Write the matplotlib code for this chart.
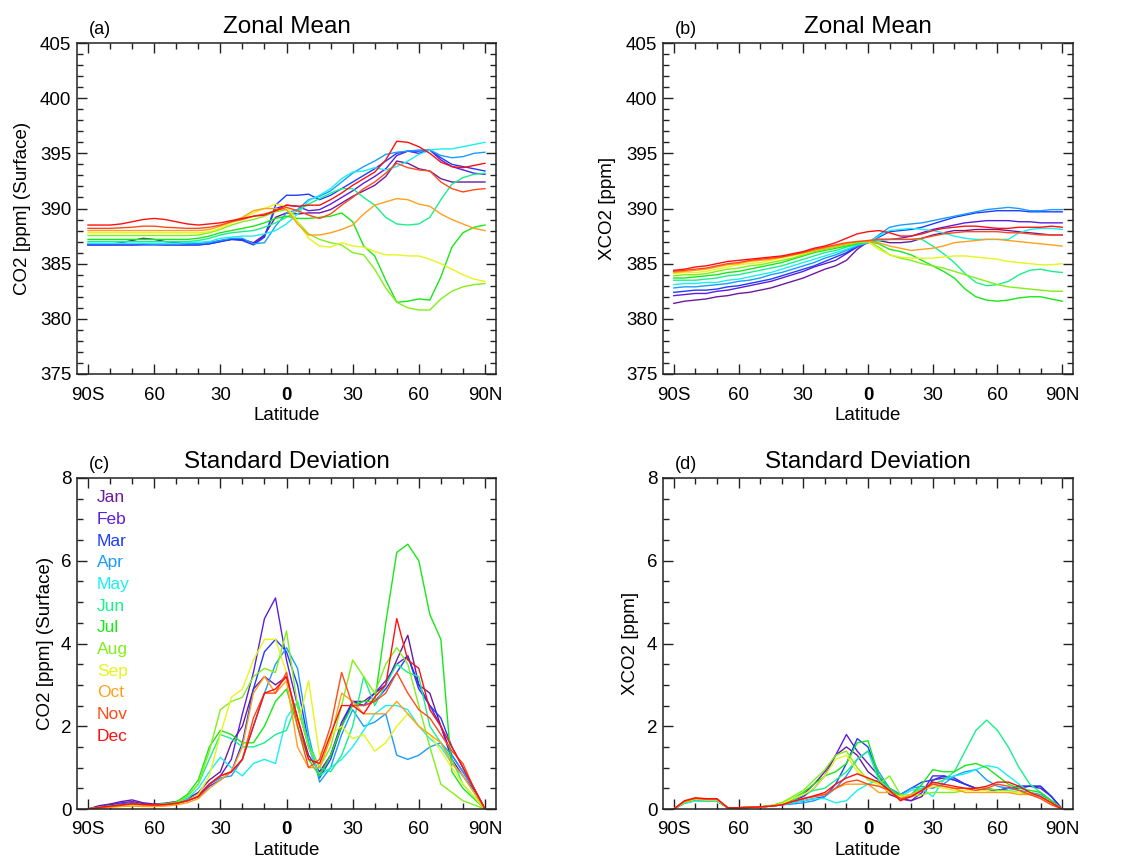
import numpy as np
import matplotlib
matplotlib.use('Agg')
import matplotlib.pyplot as plt
from matplotlib.ticker import MultipleLocator

plt.rcParams['font.family'] = ['Liberation Sans', 'DejaVu Sans']

# ---------------- data ----------------
months = ['Jan', 'Feb', 'Mar', 'Apr', 'May', 'Jun', 'Jul', 'Aug', 'Sep', 'Oct', 'Nov', 'Dec']
month_colors = ['#6c1a9c', '#5a1fe0', '#1f3cff', '#1a9cff', '#18f0f0', '#18f08c',
                '#18e818', '#80f018', '#e6f51a', '#ffa01a', '#ff4b1a', '#ff1010']
lat = np.arange(-90, 91, 5)
xtick_vals = [-90, -60, -30, 0, 30, 60, 90]
xtick_labels = ['90S', '60', '30', '0', '30', '60', '90N']

# (a) zonal mean surface CO2 [ppm]
a_jan = [386.75,386.75,386.75,386.9,387.1,387.3,387.2,387.0,386.9,386.8,386.8,386.9,387.1,
         387.2,387.2,386.9,387.6,389.2,389.6,
         389.5,389.6,389.6,389.9,390.5,391.1,391.6,392.1,392.9,394.3,394.1,393.6,393.4,392.7,392.4,392.4,392.4,392.4]
a_feb = [386.7,386.7,386.7,386.7,386.7,386.75,386.75,386.7,386.7,386.7,386.7,386.8,387.0,
         387.2,387.2,386.8,387.5,390.0,390.3,
         390.2,389.8,389.9,390.4,391.0,391.6,392.3,392.9,393.6,394.8,395.2,395.0,395.3,394.4,393.8,393.5,393.2,393.1]
a_mar = [386.7,386.7,386.7,386.7,386.7,386.7,386.7,386.7,386.7,386.7,386.7,386.8,387.0,
         387.2,387.1,386.7,387.4,390.3,391.2,
         391.2,391.3,390.8,391.2,391.8,392.4,393.0,393.6,394.3,395.0,395.2,395.2,395.3,394.6,394.0,393.8,393.6,393.4]
a_apr = [386.8,386.8,386.8,386.8,386.8,386.8,386.75,386.75,386.75,386.8,386.8,386.9,387.1,
         387.3,387.3,386.8,386.9,388.4,389.6,
         389.9,390.8,391.1,391.6,392.4,393.2,393.8,394.3,394.9,395.1,395.2,395.3,395.3,394.8,394.6,394.7,395.0,395.1]
a_may = [386.85,386.85,386.85,386.85,386.85,386.85,386.85,386.85,386.85,386.9,386.95,387.0,387.3,
         387.4,387.5,387.5,387.7,388.0,388.6,
         389.5,390.7,391.2,391.8,392.7,393.3,393.4,393.7,393.5,393.8,394.3,394.9,395.3,395.4,395.4,395.6,395.8,396.0]
a_jun = [387.0,387.0,387.0,387.0,387.0,387.0,387.0,387.0,387.0,387.0,387.1,387.3,387.6,
         387.8,387.9,388.0,388.3,388.7,389.2,
         389.8,390.4,390.9,391.4,391.8,391.8,391.0,390.3,389.2,388.6,388.5,388.6,389.2,390.8,392.2,392.8,393.1,393.2]
a_jul = [387.2,387.2,387.2,387.2,387.2,387.2,387.2,387.2,387.2,387.2,387.3,387.5,387.8,
         388.0,388.2,388.4,388.7,389.1,389.3,
         389.1,389.1,389.2,389.3,389.6,388.8,386.6,385.7,383.5,381.5,381.6,381.8,381.7,383.8,386.5,387.8,388.3,388.5]
a_aug = [387.55,387.55,387.55,387.55,387.55,387.55,387.55,387.55,387.55,387.55,387.6,387.8,388.1,
         388.5,388.8,389.0,389.3,389.7,389.9,
         388.8,387.7,387.2,386.9,386.7,386.0,385.8,384.5,382.8,381.5,381.0,380.8,380.8,381.8,382.5,382.9,383.1,383.2]
a_sep = [387.8,387.8,387.8,387.8,387.8,387.8,387.8,387.8,387.8,387.8,387.8,387.9,388.2,
         388.7,389.1,389.6,390.0,390.4,390.2,
         388.8,387.3,386.6,386.5,386.9,386.6,386.5,386.1,385.8,385.8,385.7,385.7,385.4,385.0,384.5,384.0,383.6,383.4]
a_oct = [388.0,388.0,388.0,388.0,388.0,388.0,388.0,388.0,388.0,388.0,388.0,388.1,388.4,
         388.8,389.2,389.8,390.0,390.0,389.9,
         388.6,387.6,387.6,387.8,388.1,388.5,389.5,390.3,390.6,390.9,390.8,390.4,390.2,389.5,389.0,388.6,388.2,388.0]
a_nov = [388.2,388.2,388.2,388.25,388.3,388.4,388.4,388.3,388.25,388.2,388.2,388.3,388.5,
         388.8,389.0,389.3,389.5,389.8,390.1,
         389.8,389.4,389.1,389.5,390.3,391.0,391.8,392.4,393.2,394.1,393.7,393.5,393.4,392.4,391.8,391.5,391.7,391.8]
a_dec = [388.5,388.5,388.5,388.6,388.8,389.0,389.1,389.0,388.8,388.6,388.5,388.6,388.7,
         388.9,389.1,389.3,389.4,389.8,390.3,
         390.2,390.3,390.3,390.8,391.4,392.1,392.7,393.3,394.4,396.1,396.0,395.6,395.0,394.2,393.8,393.7,393.9,394.1]

# (b) zonal mean XCO2 [ppm]
b_jan = [381.4,381.6,381.7,381.8,382.0,382.1,382.3,382.4,382.6,382.8,383.1,383.4,383.7,384.1,384.5,384.8,385.3,386.3,387.0,
         387.1,386.9,386.9,387.0,387.3,387.6,387.8,388.0,388.0,388.1,388.1,388.1,388.0,387.9,387.8,387.7,387.6,387.6]
b_feb = [382.1,382.2,382.3,382.3,382.5,382.6,382.8,383.0,383.2,383.4,383.7,384.0,384.3,384.7,385.0,385.3,385.9,386.5,386.9,
         387.2,387.2,387.3,387.5,387.8,388.1,388.3,388.5,388.7,388.8,388.9,388.9,388.9,388.8,388.8,388.7,388.7,388.7]
b_mar = [382.4,382.5,382.6,382.6,382.7,382.9,383.0,383.2,383.4,383.6,383.9,384.2,384.5,384.8,385.2,385.6,386.0,386.6,386.9,
         387.4,387.9,388.0,388.1,388.3,388.6,388.9,389.2,389.4,389.6,389.7,389.8,389.8,389.8,389.7,389.7,389.7,389.7]
b_apr = [382.8,382.9,382.9,383.0,383.1,383.2,383.4,383.5,383.7,384.0,384.2,384.5,384.8,385.1,385.5,385.8,386.2,386.6,386.9,
         387.6,388.3,388.5,388.6,388.7,388.9,389.1,389.3,389.5,389.7,389.9,390.0,390.1,390.0,389.8,389.8,389.9,389.9]
b_may = [383.1,383.2,383.2,383.3,383.3,383.5,383.6,383.8,384.0,384.2,384.5,384.8,385.1,385.4,385.7,386.0,386.3,386.7,386.9,
         387.5,388.0,388.1,388.2,388.1,388.0,387.8,387.5,387.3,387.2,387.2,387.2,387.2,387.8,388.1,388.2,388.2,388.1]
b_jun = [383.5,383.5,383.5,383.6,383.7,383.9,384.0,384.2,384.4,384.6,384.8,385.1,385.4,385.7,386.0,386.2,386.5,386.8,387.0,
         387.1,387.2,387.2,387.2,387.2,386.6,385.9,385.1,384.1,383.3,383.0,383.1,383.4,384.0,384.4,384.5,384.3,384.2]
b_jul = [383.7,383.7,383.8,383.9,384.0,384.2,384.3,384.5,384.7,384.9,385.1,385.4,385.7,386.0,386.2,386.4,386.6,386.8,387.0,
         386.8,386.3,386.1,385.8,385.3,384.8,384.3,383.7,382.7,382.0,381.7,381.6,381.7,381.9,382.0,382.0,381.8,381.6]
b_aug = [383.9,384.0,384.0,384.1,384.3,384.5,384.6,384.8,384.9,385.1,385.3,385.5,385.8,386.1,386.3,386.5,386.7,386.9,387.0,
         386.5,385.8,385.5,385.3,385.0,384.8,384.6,384.3,384.0,383.7,383.4,383.1,382.9,382.8,382.7,382.6,382.5,382.5]
b_sep = [384.1,384.2,384.2,384.3,384.5,384.7,384.9,385.0,385.1,385.3,385.5,385.7,385.9,386.2,386.4,386.6,386.8,387.0,387.0,
         386.3,385.8,385.6,385.5,385.5,385.5,385.6,385.7,385.7,385.6,385.5,385.4,385.2,385.1,385.0,384.9,384.9,385.0]
b_oct = [384.2,384.3,384.4,384.5,384.7,384.9,385.0,385.2,385.3,385.4,385.6,385.8,386.0,386.2,386.4,386.6,386.8,387.0,387.0,
         386.9,386.6,386.4,386.2,386.3,386.4,386.6,386.9,387.0,387.1,387.2,387.2,387.1,387.0,386.9,386.8,386.7,386.6]
b_nov = [384.3,384.4,384.5,384.6,384.8,385.0,385.1,385.3,385.4,385.5,385.6,385.8,386.0,386.3,386.5,386.7,386.9,387.0,387.1,
         387.2,387.2,387.2,387.2,387.3,387.5,387.7,387.8,387.9,387.9,387.9,387.9,387.8,387.8,387.7,387.6,387.6,387.6]
b_dec = [384.4,384.5,384.7,384.8,385.0,385.2,385.3,385.4,385.5,385.6,385.7,385.9,386.1,386.4,386.6,386.9,387.3,387.7,387.9,
         388.0,387.8,387.5,387.5,387.7,388.0,388.2,388.3,388.4,388.4,388.3,388.2,388.2,388.3,388.3,388.3,388.4,388.3]

# (c) standard deviation, surface CO2 [ppm]
c_jan = [0.0,0.08,0.12,0.18,0.22,0.15,0.12,0.14,0.18,0.25,
         0.4,0.7,0.9,1.6,2.0,2.9,3.2,3.0,3.2,
         2.2,1.3,0.9,1.3,2.0,2.6,2.6,2.8,3.0,
         3.6,4.2,3.0,2.8,2.0,1.2,0.8,0.45,0.0]
c_feb = [0.0,0.05,0.1,0.15,0.18,0.13,0.1,0.12,0.15,0.22,
         0.35,0.6,0.8,1.2,2.3,3.3,4.6,5.1,3.6,
         2.5,1.5,0.8,1.3,2.1,2.6,2.5,2.8,3.1,
         3.5,3.7,3.0,2.5,2.0,1.3,0.9,0.5,0.0]
c_mar = [0.0,0.05,0.08,0.12,0.15,0.1,0.1,0.12,0.15,0.2,
         0.3,0.55,0.7,0.9,1.6,2.9,3.8,4.1,3.8,
         3.0,1.6,0.75,1.2,2.0,2.6,2.5,2.6,2.9,
         3.3,3.7,2.9,2.5,2.2,1.5,1.0,0.5,0.0]
c_apr = [0.0,0.04,0.07,0.1,0.12,0.1,0.1,0.12,0.15,0.2,
         0.3,0.6,0.75,0.8,1.2,2.0,2.8,3.5,3.9,
         3.4,1.8,0.65,1.0,1.8,2.4,2.0,2.1,2.3,
         1.3,1.2,1.3,1.5,1.6,1.3,0.9,0.5,0.0]
c_may = [0.0,0.04,0.07,0.1,0.12,0.1,0.1,0.12,0.15,0.25,
         0.5,0.9,1.25,1.0,0.8,1.1,1.2,1.1,2.2,
         2.6,1.5,0.8,1.0,1.2,1.5,1.9,2.3,2.5,
         2.5,2.4,2.0,1.7,1.5,1.1,0.8,0.4,0.0]
c_jun = [0.0,0.04,0.07,0.1,0.12,0.1,0.1,0.12,0.16,0.3,
         0.6,1.2,1.8,1.7,1.5,1.5,1.6,1.8,1.9,
         2.6,1.6,1.0,0.9,1.3,2.0,3.2,2.5,3.0,
         3.5,3.3,3.2,2.0,1.6,1.2,0.6,0.3,0.0]
c_jul = [0.0,0.04,0.07,0.1,0.12,0.1,0.1,0.12,0.17,0.35,
         0.7,1.5,1.9,1.8,1.6,1.6,2.0,2.6,2.9,
         2.0,1.2,0.8,1.3,2.0,2.5,2.6,2.6,4.5,
         6.2,6.4,6.0,4.7,4.1,0.9,0.5,0.25,0.0]
c_aug = [0.0,0.03,0.06,0.08,0.1,0.08,0.08,0.1,0.15,0.3,
         0.6,1.4,2.4,2.6,2.7,3.2,3.4,3.3,4.3,
         2.5,1.5,1.0,1.5,2.5,3.6,3.2,2.8,3.5,
         3.9,3.5,2.5,1.5,0.6,0.4,0.2,0.1,0.0]
c_sep = [0.0,0.03,0.05,0.07,0.08,0.07,0.07,0.09,0.12,0.2,
         0.35,0.8,1.8,2.7,2.9,3.6,4.1,4.1,3.3,
         2.0,3.1,1.3,1.8,2.0,1.7,1.8,1.4,1.6,
         2.0,2.3,2.0,1.8,1.4,1.0,0.6,0.3,0.0]
c_oct = [0.0,0.02,0.04,0.06,0.07,0.06,0.06,0.07,0.1,0.15,
         0.25,0.5,0.7,0.9,1.5,2.8,3.2,2.8,3.1,
         1.5,1.0,1.0,1.7,2.8,2.6,2.3,2.3,2.3,
         2.6,2.3,2.0,1.8,1.6,1.1,0.8,0.4,0.0]
c_nov = [0.0,0.03,0.06,0.09,0.12,0.1,0.09,0.1,0.13,0.2,
         0.3,0.6,0.8,0.9,1.2,2.2,2.8,2.8,3.3,
         2.0,1.0,1.2,2.0,3.3,2.5,2.5,2.6,2.8,
         3.3,2.8,2.4,2.2,1.8,1.4,1.1,0.5,0.0]
c_dec = [0.0,0.04,0.07,0.1,0.13,0.11,0.1,0.11,0.14,0.2,
         0.3,0.6,0.8,0.9,1.2,2.0,2.8,2.9,3.2,
         2.2,1.2,1.1,1.8,2.5,2.5,2.3,2.7,3.0,
         4.6,3.6,3.4,2.4,2.0,1.5,1.0,0.5,0.0]

# (d) standard deviation, XCO2 [ppm]
d_jan = [0.0,0.15,0.22,0.2,0.2,0.03,0.03,0.04,0.05,0.07,
         0.1,0.2,0.35,0.6,0.9,1.3,1.5,1.3,0.9,
         0.7,0.35,0.25,0.2,0.3,0.7,0.75,0.7,0.6,
         0.5,0.5,0.45,0.5,0.55,0.55,0.5,0.3,0.0]
d_feb = [0.0,0.15,0.22,0.2,0.2,0.03,0.03,0.04,0.05,0.07,
         0.1,0.2,0.3,0.5,0.8,1.3,1.8,1.4,1.1,
         0.8,0.4,0.25,0.2,0.4,0.8,0.8,0.75,0.6,
         0.5,0.45,0.45,0.5,0.5,0.55,0.55,0.3,0.0]
d_mar = [0.0,0.15,0.22,0.2,0.2,0.03,0.03,0.04,0.05,0.07,
         0.1,0.15,0.2,0.25,0.3,0.6,1.1,1.7,1.5,
         0.8,0.5,0.35,0.5,0.65,0.7,0.8,0.7,0.6,
         0.5,0.45,0.45,0.5,0.55,0.55,0.55,0.3,0.0]
d_apr = [0.0,0.14,0.2,0.19,0.19,0.03,0.03,0.04,0.05,0.07,
         0.1,0.12,0.15,0.2,0.3,0.5,0.8,1.2,1.4,
         0.9,0.5,0.35,0.5,0.55,0.5,0.6,0.8,0.9,
         0.95,0.7,0.55,0.5,0.45,0.4,0.35,0.2,0.0]
d_may = [0.0,0.14,0.2,0.19,0.19,0.03,0.03,0.04,0.05,0.07,
         0.1,0.15,0.2,0.25,0.25,0.15,0.2,0.45,0.6,
         0.7,0.5,0.3,0.45,0.5,0.3,0.7,0.8,0.85,
         0.95,1.05,1.0,0.8,0.6,0.4,0.3,0.15,0.0]
d_jun = [0.0,0.16,0.23,0.21,0.21,0.03,0.03,0.04,0.05,0.08,
         0.12,0.2,0.35,0.45,0.5,0.7,0.9,1.2,1.4,
         0.7,0.4,0.3,0.35,0.5,0.6,0.7,0.9,1.4,
         1.9,2.15,1.9,1.5,1.0,0.6,0.4,0.2,0.0]
d_jul = [0.0,0.16,0.23,0.21,0.21,0.03,0.03,0.04,0.05,0.08,
         0.15,0.25,0.4,0.6,0.8,0.9,1.1,1.6,1.65,
         0.8,0.5,0.3,0.35,0.6,0.95,0.9,0.9,1.05,
         1.1,1.0,0.8,0.6,0.5,0.45,0.4,0.2,0.0]
d_aug = [0.0,0.17,0.24,0.22,0.22,0.03,0.03,0.04,0.05,0.08,
         0.15,0.3,0.45,0.7,0.95,1.3,1.4,1.0,0.7,
         0.6,0.8,0.35,0.3,0.35,0.4,0.4,0.4,0.45,
         0.5,0.5,0.45,0.45,0.4,0.35,0.3,0.15,0.0]
d_sep = [0.0,0.17,0.24,0.22,0.22,0.03,0.03,0.04,0.05,0.08,
         0.12,0.25,0.35,0.5,0.8,1.2,1.3,0.9,0.75,
         0.6,0.4,0.3,0.35,0.45,0.55,0.5,0.45,0.45,
         0.45,0.45,0.4,0.4,0.4,0.4,0.3,0.15,0.0]
d_oct = [0.0,0.18,0.25,0.23,0.23,0.03,0.03,0.04,0.05,0.07,
         0.1,0.18,0.25,0.3,0.35,0.5,0.6,0.6,0.6,
         0.4,0.4,0.25,0.35,0.45,0.6,0.55,0.5,0.4,
         0.4,0.4,0.4,0.4,0.35,0.35,0.3,0.15,0.0]
d_nov = [0.0,0.19,0.26,0.24,0.24,0.03,0.03,0.04,0.05,0.07,
         0.1,0.18,0.25,0.3,0.35,0.5,0.65,0.7,0.6,
         0.55,0.45,0.25,0.3,0.45,0.6,0.55,0.5,0.5,
         0.45,0.5,0.6,0.55,0.45,0.35,0.25,0.1,0.0]
d_dec = [0.0,0.2,0.27,0.25,0.25,0.03,0.03,0.04,0.05,0.07,
         0.1,0.18,0.25,0.32,0.4,0.6,0.75,0.85,0.75,
         0.65,0.45,0.2,0.3,0.45,0.65,0.6,0.55,0.5,
         0.5,0.55,0.65,0.65,0.55,0.4,0.3,0.15,0.0]

panel_a = [a_jan, a_feb, a_mar, a_apr, a_may, a_jun, a_jul, a_aug, a_sep, a_oct, a_nov, a_dec]
panel_b = [b_jan, b_feb, b_mar, b_apr, b_may, b_jun, b_jul, b_aug, b_sep, b_oct, b_nov, b_dec]
panel_c = [c_jan, c_feb, c_mar, c_apr, c_may, c_jun, c_jul, c_aug, c_sep, c_oct, c_nov, c_dec]
panel_d = [d_jan, d_feb, d_mar, d_apr, d_may, d_jun, d_jul, d_aug, d_sep, d_oct, d_nov, d_dec]

# ---------------- figure ----------------
W, H = 1131, 859
fig = plt.figure(figsize=(W / 100, H / 100), dpi=100)


def add_ax(l, t, r, b):
    return fig.add_axes([l / W, 1 - b / H, (r - l) / W, (b - t) / H])


axa = add_ax(77, 43, 496, 374)
axb = add_ax(663, 43, 1073, 374)
axc = add_ax(77, 478, 496, 809)
axd = add_ax(663, 478, 1073, 809)


def style(ax, ylim, ymaj, ymin, ylabel, ylab_x, title, tag):
    ax.set_xlim(-95, 95)
    ax.set_ylim(*ylim)
    ax.set_xticks(xtick_vals)
    ax.set_xticklabels(xtick_labels)
    for t in ax.get_xticklabels():
        if t.get_text() == '0':
            t.set_fontweight('bold')
    ax.xaxis.set_minor_locator(MultipleLocator(10))
    ax.yaxis.set_major_locator(MultipleLocator(ymaj))
    ax.yaxis.set_minor_locator(MultipleLocator(ymin))
    ax.tick_params(which='both', direction='in', top=True, right=True,
                   labelsize=13.5, width=1.0, color='#222222')
    ax.tick_params(which='major', length=7)
    ax.tick_params(which='minor', length=4)
    ax.tick_params(axis='x', pad=9)
    ax.tick_params(axis='y', pad=4)
    for s in ax.spines.values():
        s.set_linewidth(1.1)
        s.set_color('#222222')
    ax.set_xlabel('Latitude', fontsize=13.5)
    ax.xaxis.set_label_coords(0.5, -0.1)
    ax.set_ylabel(ylabel, fontsize=13.5)
    ax.yaxis.set_label_coords(ylab_x, 0.5)
    ax.set_title(title, fontsize=17.5, pad=7)
    ax.text(0.028, 1.028, tag, transform=ax.transAxes, fontsize=13,
            ha='left', va='baseline')


for ax, data in ((axa, panel_a), (axb, panel_b), (axc, panel_c), (axd, panel_d)):
    for vals, col in zip(data, month_colors):
        ax.plot(lat, vals, color=col, lw=1.0)

style(axa, (375, 405), 5, 1, 'CO2 [ppm] (Surface)', -0.109, 'Zonal Mean', '(a)')
style(axb, (375, 405), 5, 1, 'XCO2 [ppm]', -0.114, 'Zonal Mean', '(b)')
style(axc, (0, 8), 2, 0.5, 'CO2 [ppm] (Surface)', -0.056, 'Standard Deviation', '(c)')
style(axd, (0, 8), 2, 0.5, 'XCO2 [ppm]', -0.058, 'Standard Deviation', '(d)')

# month legend in panel (c)
for i, (m, col) in enumerate(zip(months, month_colors)):
    axc.text(0.048, 0.94 - i * 0.0655, m, transform=axc.transAxes,
             color=col, fontsize=12.5, ha='left', va='center')

fig.savefig('out.png', dpi=100)
